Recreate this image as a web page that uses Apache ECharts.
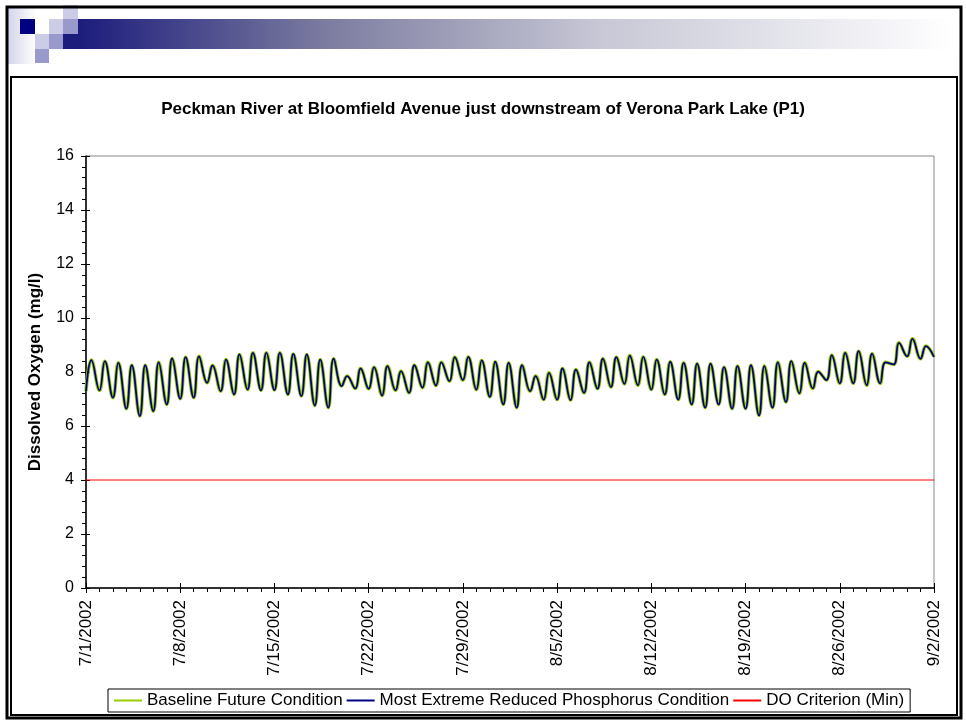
<!DOCTYPE html>
<html>
<head>
<meta charset="utf-8">
<script src="https://cdn.jsdelivr.net/npm/echarts@6/dist/echarts.min.js"></script>
<style>
  html, body { margin: 0; padding: 0; background: #fff; }
  #chart { width: 966px; height: 721px; }
</style>
</head>
<body>
<div id="chart"></div>
<script>
// x is measured in days since 7/1/2002
const dateLabels = ['7/1/2002', '7/8/2002', '7/15/2002', '7/22/2002', '7/29/2002',
  '8/5/2002', '8/12/2002', '8/19/2002', '8/26/2002', '9/2/2002'];

// daily low (around midnight) and daily high (mid-morning)
const dailyLow = [7.29, 7.32, 7.05, 6.64, 6.37, 6.55, 6.80, 7.01, 7.05, 7.60,
  7.29, 7.17, 7.35, 7.32, 7.33, 7.17, 7.11, 6.76, 6.68, 7.48,
  7.39, 7.38, 7.13, 7.32, 7.23, 7.42, 7.50, 7.66, 7.70, 7.35,
  7.08, 6.80, 6.68, 7.29, 6.98, 6.98, 6.96, 7.23, 7.38, 7.44,
  7.56, 7.51, 7.35, 7.17, 6.98, 6.80, 6.68, 6.80, 6.64, 6.64,
  6.39, 6.68, 6.89, 7.21, 7.39, 7.70, 7.58, 7.58, 7.51, 7.58,
  8.28, 8.58, 8.49, 8.56];
const dailyHigh = [8.44, 8.40, 8.34, 8.25, 8.25, 8.36, 8.50, 8.55, 8.58, 8.24,
  8.46, 8.65, 8.71, 8.71, 8.71, 8.67, 8.65, 8.46, 8.49, 7.85,
  8.13, 8.18, 8.22, 8.03, 8.25, 8.36, 8.36, 8.55, 8.56, 8.43,
  8.38, 8.34, 8.25, 7.85, 7.97, 8.13, 8.09, 8.36, 8.49, 8.55,
  8.61, 8.56, 8.46, 8.38, 8.34, 8.31, 8.31, 8.18, 8.22, 8.25,
  8.22, 8.36, 8.40, 8.34, 8.01, 8.62, 8.71, 8.77, 8.68, 8.36,
  9.08, 9.23, 8.96];
const highTime = 0.4; // fraction of a day where the daily high sits
const criterionValue = 4;

const font = 'Liberation Sans, Arial, sans-serif';

// the reduced-phosphorus line sits on top of the baseline at this resolution
function buildSeries(lows, highs) {
  const pts = [];
  for (let d = 0; d < lows.length; d++) {
    pts.push([d, lows[d]]);
    if (d < highs.length) pts.push([d + highTime, highs[d]]);
  }
  return pts;
}
const baselineData = buildSeries(dailyLow, dailyHigh);
const reducedData = buildSeries(dailyLow, dailyHigh);
const lastDay = dateLabels.length * 7 - 7;

const chart = echarts.init(document.getElementById('chart'));

const sq = (x, y, w, h, fill) => ({ type: 'rect', silent: true, shape: { x, y, width: w, height: h }, style: { fill } });

const option = {
  animation: false,
  backgroundColor: '#fff',
  textStyle: { fontFamily: font },
  title: {
    text: 'Peckman River at Bloomfield Avenue just downstream of Verona Park Lake (P1)',
    left: 'center',
    top: 96,
    textStyle: { fontFamily: font, fontSize: 17, fontWeight: 'bold', color: '#000' }
  },
  graphic: [
    { type: 'rect', silent: true, shape: { x: 8, y: 8, width: 28, height: 56 },
      style: { fill: new echarts.graphic.LinearGradient(0, 0, 1, 0, [
        { offset: 0, color: '#d4d4ea' }, { offset: 1, color: '#ffffff' }]) } },
    { type: 'rect', silent: true, shape: { x: 78, y: 19, width: 875, height: 30 },
      style: { fill: new echarts.graphic.LinearGradient(0, 0, 1, 0, [
        { offset: 0, color: '#1c1c7c' }, { offset: 0.28, color: '#7b7ba0' },
        { offset: 0.6, color: '#c8c8d6' }, { offset: 0.92, color: '#f3f3f7' },
        { offset: 1, color: '#ffffff' }]) } },
    sq(63, 5, 15, 14, '#ccccE6'),
    sq(20, 19, 15, 15, '#000080'),
    sq(49, 19, 14, 15, '#ccccE6'),
    sq(63, 19, 15, 15, '#9999cc'),
    sq(35, 34, 14, 15, '#ccccE6'),
    sq(49, 34, 14, 15, '#9999cc'),
    sq(63, 34, 15, 15, '#1c1c7c'),
    sq(35, 49, 14, 14, '#9999cc'),
    { type: 'rect', silent: true, shape: { x: 7, y: 7, width: 954, height: 711 },
      style: { fill: 'none', stroke: '#000', lineWidth: 3 } },
    { type: 'rect', silent: true, shape: { x: 11, y: 77, width: 946, height: 638 },
      style: { fill: 'none', stroke: '#000', lineWidth: 2 } }
  ],
  legend: {
    left: 108,
    top: 689,
    padding: [3, 6, 3, 5],
    borderColor: '#000',
    borderWidth: 1,
    itemWidth: 28,
    itemHeight: 12,
    itemGap: 3,
    itemStyle: { opacity: 0 },
    textStyle: { fontFamily: font, fontSize: 17, color: '#000' },
    data: ['Baseline Future Condition', 'Most Extreme Reduced Phosphorus Condition', 'DO Criterion (Min)']
  },
  grid: {
    left: 86, right: 32, top: 156, bottom: 133,
    show: true, borderColor: '#888', borderWidth: 1
  },
  xAxis: [{
    type: 'value', min: 0, max: lastDay, interval: 7, position: 'bottom',
    axisLine: { lineStyle: { color: '#000', width: 1.5 } },
    axisTick: { length: 5, lineStyle: { color: '#000' } },
    minorTick: { show: true, splitNumber: 7, length: 4, lineStyle: { color: '#000' } },
    splitLine: { show: false },
    axisLabel: {
      rotate: 90, margin: 12, color: '#000', fontFamily: font, fontSize: 17,
      formatter: v => dateLabels[Math.round(v / 7)]
    }
  }, {
    type: 'value', min: 0, max: lastDay, interval: 7, position: 'bottom',
    axisLine: { show: false },
    axisTick: { inside: true, length: 5, lineStyle: { color: '#000' } },
    axisLabel: { show: false },
    splitLine: { show: false }
  }],
  yAxis: [{
    type: 'value', min: 0, max: 16, interval: 2, position: 'left',
    name: 'Dissolved Oxygen (mg/l)',
    nameLocation: 'middle',
    nameGap: 42,
    nameTextStyle: { fontFamily: font, fontSize: 17, fontWeight: 'bold', color: '#000' },
    axisLine: { show: true, lineStyle: { color: '#000', width: 1.5 } },
    axisTick: { show: true, length: 5, lineStyle: { color: '#000' } },
    minorTick: { show: true, splitNumber: 5, length: 4, lineStyle: { color: '#000' } },
    splitLine: { show: false },
    axisLabel: { margin: 12, color: '#000', fontFamily: font, fontSize: 16 }
  }, {
    type: 'value', min: 0, max: 16, interval: 2, position: 'left',
    axisLine: { show: false },
    axisTick: { show: true, inside: true, length: 4, lineStyle: { color: '#000' } },
    axisLabel: { show: false },
    splitLine: { show: false }
  }],
  series: [
    {
      name: 'Baseline Future Condition', type: 'line', data: baselineData,
      smooth: 0.45, symbol: 'none', color: '#99cc00',
      lineStyle: { color: '#99cc00', width: 3.5 }, z: 2
    },
    {
      name: 'Most Extreme Reduced Phosphorus Condition', type: 'line', data: reducedData,
      smooth: 0.45, symbol: 'none', color: '#000080',
      lineStyle: { color: '#000080', width: 1.8 }, z: 3
    },
    {
      name: 'DO Criterion (Min)', type: 'line',
      data: [[0, criterionValue], [lastDay, criterionValue]],
      symbol: 'none', color: '#ff0000',
      lineStyle: { color: '#ff0000', width: 1 }, z: 2
    }
  ]
};

chart.setOption(option);
</script>
</body>
</html>
